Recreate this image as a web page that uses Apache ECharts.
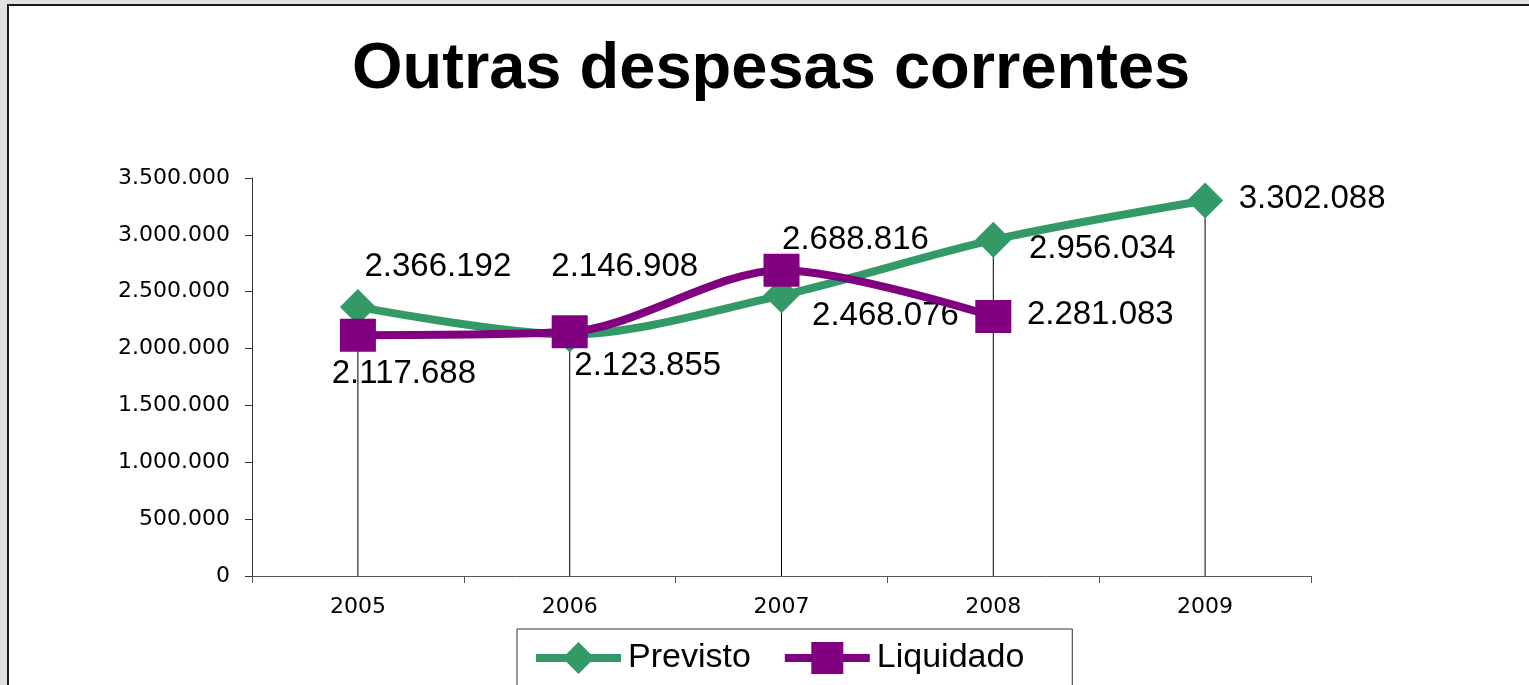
<!DOCTYPE html>
<html>
<head>
<meta charset="utf-8">
<script src="https://cdn.jsdelivr.net/npm/echarts@6/dist/echarts.min.js"></script>
<style>
html,body{margin:0;padding:0;width:1529px;height:685px;overflow:hidden;background:#e1e1e1;}
#frame{position:absolute;left:7px;top:4px;width:1600px;height:800px;background:#fff;border-left:2px solid #1a1a1a;border-top:2px solid #1a1a1a;}
#chart{position:absolute;left:0;top:0;width:1529px;height:685px;}
</style>
</head>
<body>
<div id="frame"></div>
<div id="chart"></div>
<script>
const categories = ['2005', '2006', '2007', '2008', '2009'];
const previsto = [2366192, 2123855, 2468076, 2956034, 3302088];
const liquidado = [2117688, 2146908, 2688816, 2281083];
const yTicks = { min: 0, max: 3500000, interval: 500000 };

function fmt(v) {
  return String(Math.round(v)).replace(/\B(?=(\d{3})+(?!\d))/g, '.');
}

// label placement (style only)
const prevOffsets = [[80, -40], [78, 31], [104, 21], [109, 9], [107, -2]];
const liqOffsets = [[46, 39], [55, -65], [74, -30], [107, -2]];

const dropTops = categories.map((c, i) => Math.max(previsto[i] ?? 0, liquidado[i] ?? 0));

const labelFont = { fontFamily: 'Liberation Sans, Arial, sans-serif', fontSize: 33, color: '#000' };

const chart = echarts.init(document.getElementById('chart'), null, { renderer: 'canvas' });
chart.setOption({
  backgroundColor: 'transparent',
  animation: false,
  title: {
    text: 'Outras despesas correntes',
    left: 352,
    top: 38,
    padding: 0,
    textStyle: { fontFamily: 'Liberation Sans, Arial, sans-serif', fontWeight: 'bold', fontSize: 65, color: '#000' }
  },
  grid: { left: 252, right: 218, top: 178, bottom: 109 },
  legend: {
    bottom: -20,
    left: 517,
    padding: [12, 48, 30, 15],
    borderColor: '#333',
    borderWidth: 1,
    itemWidth: 85,
    itemHeight: 40,
    itemGap: 30,
    data: [
      { name: 'Previsto', lineStyle: { width: 8 } },
      { name: 'Liquidado', lineStyle: { width: 8 } }
    ],
    textStyle: { fontFamily: 'Liberation Sans, Arial, sans-serif', fontSize: 34, color: '#000', padding: [0, 0, 0, 2] }
  },
  xAxis: {
    type: 'category',
    data: categories,
    boundaryGap: true,
    axisLine: { lineStyle: { color: '#555', width: 1 } },
    axisTick: { show: true, length: 7, inside: false, lineStyle: { color: '#555' } },
    axisLabel: { margin: 20, fontFamily: 'DejaVu Sans, sans-serif', fontSize: 22, color: '#000' },
    splitLine: { show: false }
  },
  yAxis: {
    type: 'value',
    min: yTicks.min,
    max: yTicks.max,
    interval: yTicks.interval,
    axisLine: { show: true, lineStyle: { color: '#333', width: 1 } },
    axisTick: { show: true, length: 7, lineStyle: { color: '#333' } },
    axisLabel: { margin: 22, fontFamily: 'DejaVu Sans, sans-serif', fontSize: 22, color: '#000', formatter: v => fmt(v) },
    splitLine: { show: false }
  },
  series: [
    {
      name: 'drop',
      type: 'bar',
      data: dropTops,
      barWidth: 1,
      itemStyle: { color: '#000' },
      silent: true,
      z: 1
    },
    {
      name: 'Previsto',
      type: 'line',
      data: previsto.map((v, i) => ({ value: v, label: { offset: prevOffsets[i] } })),
      smooth: 0.3,
      symbol: 'diamond',
      symbolSize: [36, 36],
      lineStyle: { color: '#339966', width: 8 },
      itemStyle: { color: '#339966' },
      label: { show: true, position: 'inside', align: 'center', verticalAlign: 'middle', formatter: p => fmt(p.value), ...labelFont },
      z: 3
    },
    {
      name: 'Liquidado',
      type: 'line',
      data: liquidado.map((v, i) => ({ value: v, label: { offset: liqOffsets[i] } })),
      smooth: 0.3,
      symbol: 'rect',
      symbolSize: [36, 33],
      lineStyle: { color: '#800080', width: 8 },
      itemStyle: { color: '#800080' },
      label: { show: true, position: 'inside', align: 'center', verticalAlign: 'middle', formatter: p => fmt(p.value), ...labelFont },
      z: 4
    }
  ]
});
</script>
</body>
</html>
